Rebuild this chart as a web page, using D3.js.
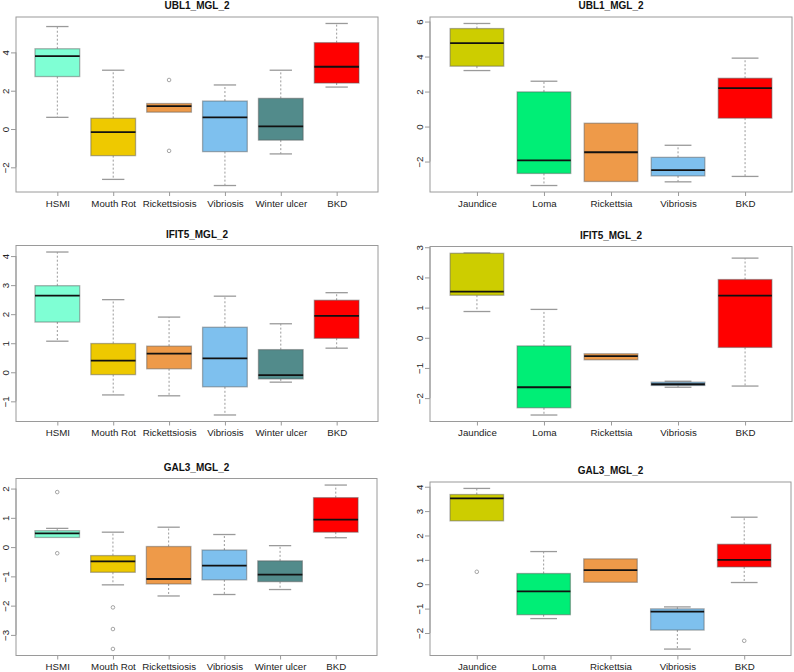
<!DOCTYPE html>
<html>
<head>
<meta charset="utf-8">
<script src="https://cdn.jsdelivr.net/npm/d3@7"></script>
<style>
  html, body { margin: 0; padding: 0; background: #ffffff; }
  svg { display: block; }
</style>
</head>
<body>
<svg id="chart" width="794" height="672"></svg>
<script>
// ---------- DATA ----------
const leftCategories = ["HSMI", "Mouth Rot", "Rickettsiosis", "Vibriosis", "Winter ulcer", "BKD"];
const rightCategories = ["Jaundice", "Loma", "Rickettsia", "Vibriosis", "BKD"];
const leftColors = ["#7FFFD4", "#EEC900", "#EE9A49", "#7EC0EE", "#528B8B", "#FF0000"];
const rightColors = ["#CDCD00", "#00EE76", "#EE9A49", "#7EC0EE", "#FF0000"];

const panelTitles = ["UBL1_MGL_2", "UBL1_MGL_2", "IFIT5_MGL_2", "IFIT5_MGL_2", "GAL3_MGL_2", "GAL3_MGL_2"];

// stats: [lower whisker, Q1, median, Q3, upper whisker]
const ubl1LeftStats = [
  [0.61, 2.74, 3.81, 4.19, 5.35],
  [-2.63, -1.39, -0.16, 0.56, 3.07],
  [0.88, 0.88, 1.19, 1.33, 1.33],
  [-2.95, -1.18, 0.61, 1.46, 2.30],
  [-1.30, -0.58, 0.14, 1.60, 3.07],
  [2.19, 2.40, 3.25, 4.51, 5.51]
];
const ubl1LeftOutliers = [[], [], [2.56, -1.14], [], [], []];

const ubl1RightStats = [
  [3.20, 3.45, 4.77, 5.60, 5.89],
  [-3.37, -2.68, -1.93, 1.98, 2.59],
  [-3.14, -3.14, -1.47, 0.19, 0.19],
  [-3.16, -2.82, -2.49, -1.76, -1.07],
  [-2.85, 0.48, 2.20, 2.76, 3.91]
];
const ubl1RightOutliers = [[], [], [], [], []];

const ifit5LeftStats = [
  [1.07, 1.73, 2.64, 2.98, 4.14],
  [-0.78, -0.08, 0.40, 0.99, 2.50],
  [-0.81, 0.12, 0.64, 0.90, 1.90],
  [-1.47, -0.50, 0.48, 1.55, 2.62],
  [-0.34, -0.23, -0.10, 0.78, 1.67],
  [0.83, 1.17, 1.94, 2.48, 2.74]
];
const ifit5LeftOutliers = [[], [], [], [], [], []];

const ifit5RightStats = [
  [0.87, 1.41, 1.53, 2.80, 2.81],
  [-2.56, -2.32, -1.64, -0.27, 0.94],
  [-0.73, -0.73, -0.61, -0.53, -0.53],
  [-1.64, -1.58, -1.54, -1.47, -1.44],
  [-1.60, -0.32, 1.40, 1.93, 2.64]
];
const ifit5RightOutliers = [[], [], [], [], []];

const gal3LeftStats = [
  [0.33, 0.33, 0.47, 0.56, 0.64],
  [-1.29, -0.86, -0.49, -0.29, 0.51],
  [-1.67, -1.26, -1.09, 0.02, 0.68],
  [-1.62, -1.12, -0.63, -0.10, 0.43],
  [-1.45, -1.18, -0.94, -0.47, 0.05],
  [0.32, 0.51, 0.94, 1.69, 2.12]
];
const gal3LeftOutliers = [[1.88, -0.21], [-2.06, -2.80, -3.48], [], [], [], []];

const gal3RightStats = [
  [2.60, 2.60, 3.52, 3.68, 3.93],
  [-1.41, -1.25, -0.29, 0.44, 1.34],
  [0.08, 0.08, 0.58, 1.04, 1.04],
  [-2.66, -1.88, -1.12, -1.01, -0.93],
  [0.07, 0.71, 1.00, 1.64, 2.75]
];
const gal3RightOutliers = [[0.51], [], [], [], [-2.32]];

const ubl1LeftTicks = [-2, 0, 2, 4];
const ubl1RightTicks = [-2, 0, 2, 4, 6];
const ifit5LeftTicks = [-1, 0, 1, 2, 3, 4];
const ifit5RightTicks = [-2, -1, 0, 1, 2, 3];
const gal3LeftTicks = [-3, -2, -1, 0, 1, 2];
const gal3RightTicks = [-2, -1, 0, 1, 2, 3, 4];

// ---------- LAYOUT ----------
const panels = [
  { title: panelTitles[0], cats: leftCategories, colors: leftColors, stats: ubl1LeftStats, outliers: ubl1LeftOutliers, ticks: ubl1LeftTicks, x: 16, y: 17, w: 362, h: 175 },
  { title: panelTitles[1], cats: rightCategories, colors: rightColors, stats: ubl1RightStats, outliers: ubl1RightOutliers, ticks: ubl1RightTicks, x: 430, y: 17, w: 362, h: 175 },
  { title: panelTitles[2], cats: leftCategories, colors: leftColors, stats: ifit5LeftStats, outliers: ifit5LeftOutliers, ticks: ifit5LeftTicks, x: 16, y: 245.5, w: 362, h: 176 },
  { title: panelTitles[3], cats: rightCategories, colors: rightColors, stats: ifit5RightStats, outliers: ifit5RightOutliers, ticks: ifit5RightTicks, x: 430, y: 246.5, w: 362, h: 175 },
  { title: panelTitles[4], cats: leftCategories, colors: leftColors, stats: gal3LeftStats, outliers: gal3LeftOutliers, ticks: gal3LeftTicks, x: 16, y: 478.5, w: 361, h: 177 },
  { title: panelTitles[5], cats: rightCategories, colors: rightColors, stats: gal3RightStats, outliers: gal3RightOutliers, ticks: gal3RightTicks, x: 430, y: 482, w: 361, h: 173.5 }
];

const svg = d3.select("#chart");
const FONT = "'Liberation Sans', Arial, Helvetica, sans-serif";
const GRAY = "#9a9a9a";

function fmt(v) { return v < 0 ? "\u2212" + Math.abs(v) : String(v); }

panels.forEach(p => {
  const n = p.cats.length;
  const allVals = p.stats.flat().concat(p.outliers.flat());
  const lo = d3.min(allVals), hi = d3.max(allVals);
  const pad = (hi - lo) * 0.04;
  const y = d3.scaleLinear().domain([lo - pad, hi + pad]).range([p.y + p.h, p.y]);
  const x = d3.scaleLinear().domain([0.5 - 0.04 * n, n + 0.5 + 0.04 * n]).range([p.x, p.x + p.w]);
  const halfW = (x(1.4) - x(1));
  const capW = halfW / 2;

  const g = svg.append("g");

  // title
  g.append("text")
    .attr("x", p.x + p.w / 2).attr("y", p.y - 8)
    .attr("text-anchor", "middle")
    .attr("font-family", FONT).attr("font-size", 10).attr("font-weight", "bold")
    .attr("fill", "#111")
    .text(p.title);

  // boxes
  p.stats.forEach((s, i) => {
    const cx = x(i + 1);
    const [wl, q1, med, q3, wh] = s;
    const bg = g.append("g");
    // whiskers (dashed)
    if (wh > q3) {
      bg.append("line").attr("x1", cx).attr("x2", cx).attr("y1", y(q3)).attr("y2", y(wh))
        .attr("stroke", GRAY).attr("stroke-width", 1).attr("stroke-dasharray", "2,2");
      bg.append("line").attr("x1", cx - capW).attr("x2", cx + capW).attr("y1", y(wh)).attr("y2", y(wh))
        .attr("stroke", GRAY).attr("stroke-width", 1.3);
    }
    if (wl < q1) {
      bg.append("line").attr("x1", cx).attr("x2", cx).attr("y1", y(q1)).attr("y2", y(wl))
        .attr("stroke", GRAY).attr("stroke-width", 1).attr("stroke-dasharray", "2,2");
      bg.append("line").attr("x1", cx - capW).attr("x2", cx + capW).attr("y1", y(wl)).attr("y2", y(wl))
        .attr("stroke", GRAY).attr("stroke-width", 1.3);
    }
    // box
    bg.append("rect")
      .attr("x", cx - halfW).attr("y", y(q3))
      .attr("width", 2 * halfW).attr("height", Math.max(1, y(q1) - y(q3)))
      .attr("fill", p.colors[i])
      .attr("stroke", "#555").attr("stroke-opacity", 0.45).attr("stroke-width", 1.3);
    // median
    bg.append("line").attr("x1", cx - halfW).attr("x2", cx + halfW).attr("y1", y(med)).attr("y2", y(med))
      .attr("stroke", "#111").attr("stroke-width", 1.8);
    // outliers
    p.outliers[i].forEach(o => {
      bg.append("circle").attr("cx", cx).attr("cy", y(o)).attr("r", 1.8)
        .attr("fill", "none").attr("stroke", GRAY).attr("stroke-width", 0.9);
    });
  });

  // frame
  g.append("rect").attr("x", p.x).attr("y", p.y).attr("width", p.w).attr("height", p.h)
    .attr("fill", "none").attr("stroke", GRAY).attr("stroke-width", 1);

  // y axis
  const yAxis = d3.axisLeft(y).tickValues(p.ticks).tickSize(5).tickFormat(fmt);
  const ya = g.append("g").attr("transform", `translate(${p.x},0)`).call(yAxis);
  ya.select(".domain").attr("stroke", GRAY)
    .attr("d", `M0,${y(p.ticks[0])}V${y(p.ticks[p.ticks.length - 1])}`);
  ya.selectAll(".tick line").attr("stroke", GRAY);
  ya.selectAll(".tick text")
    .attr("font-family", FONT).attr("font-size", 9.7).attr("fill", "#222")
    .attr("x", 0).attr("dy", null)
    .attr("transform", "translate(-11,0) rotate(-90)")
    .attr("text-anchor", "middle").attr("dominant-baseline", "central");

  // x axis
  const xAxis = d3.axisBottom(x).tickValues(d3.range(1, n + 1)).tickSize(4)
    .tickFormat((d) => p.cats[d - 1]);
  const xa = g.append("g").attr("transform", `translate(0,${p.y + p.h})`).call(xAxis);
  xa.select(".domain").remove();
  xa.selectAll(".tick line").attr("stroke", GRAY);
  xa.selectAll(".tick text")
    .attr("font-family", FONT).attr("font-size", 9.7).attr("fill", "#222")
    .attr("dy", null).attr("y", 14.5);
});
</script>
</body>
</html>
